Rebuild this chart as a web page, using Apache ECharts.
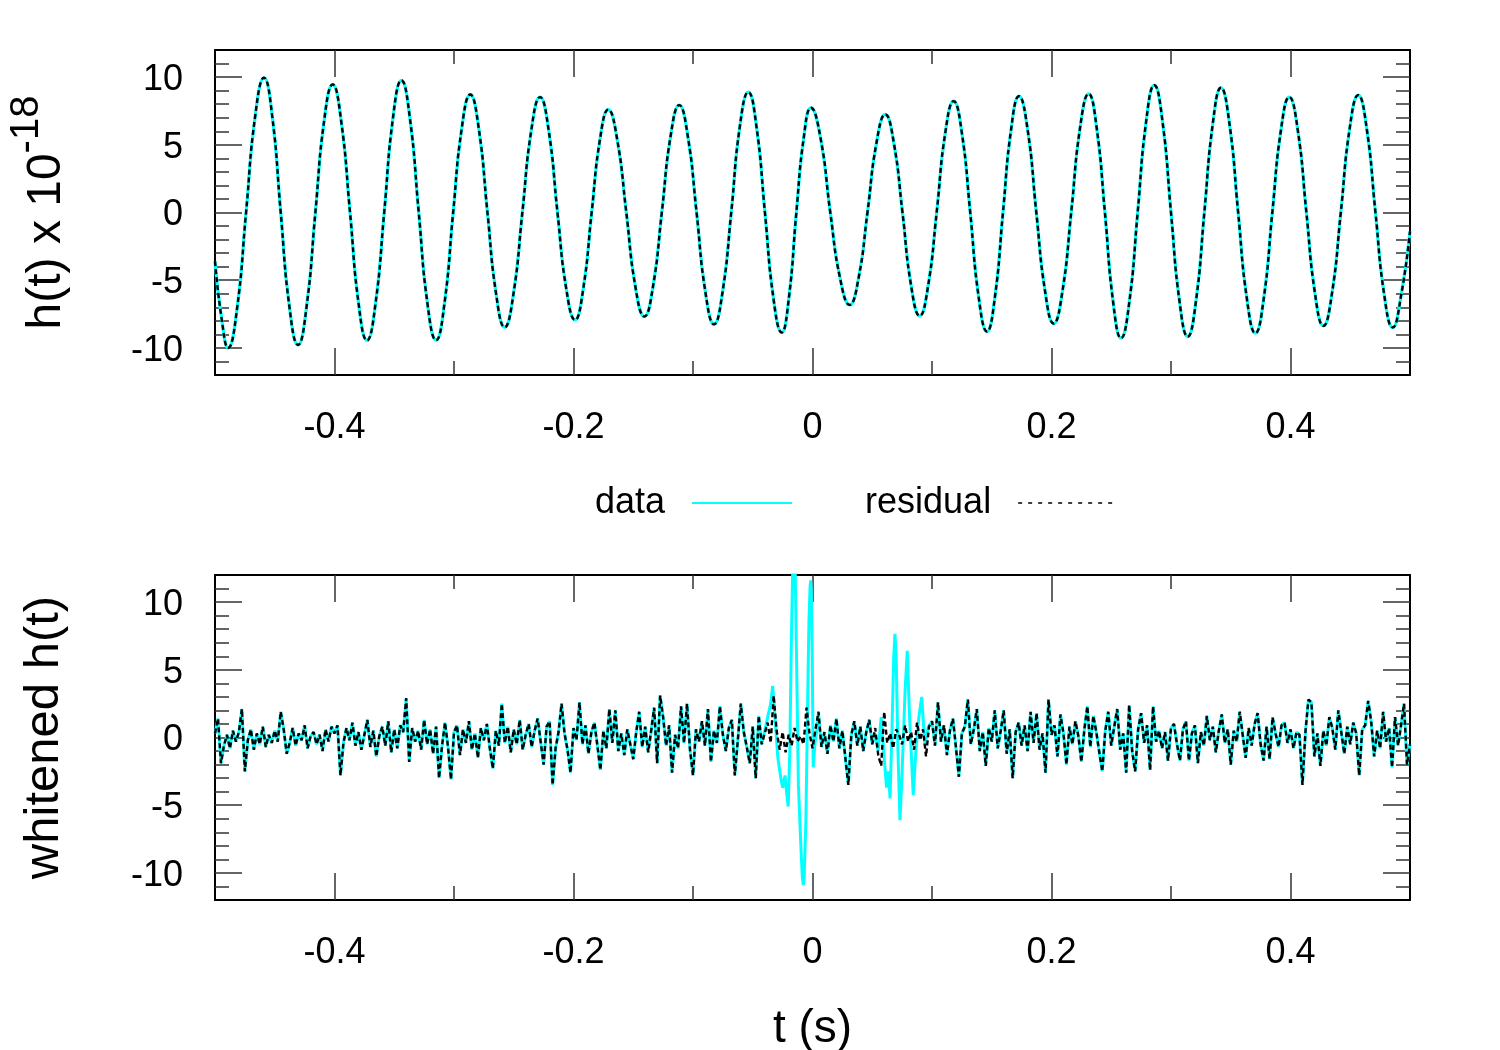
<!DOCTYPE html>
<html><head><meta charset="utf-8">
<script src="https://cdn.jsdelivr.net/npm/echarts@6/dist/echarts.min.js"></script>
<style>html,body{margin:0;padding:0;background:#fff}#c{width:1500px;height:1050px}</style>
</head><body><div id="c"></div>
<script>
// ---------- tick values ----------
const xMajorTicks = [-0.4, -0.2, 0, 0.2, 0.4];
const xMinorTicks = [-0.3, -0.1, 0.1, 0.3];
const yMajorTicks = [-10, -5, 0, 5, 10];
const yMinorTicks = [-11, -9, -8, -7, -6, -4, -3, -2, -1, 1, 2, 3, 4, 6, 7, 8, 9, 11];

// ---------- top panel: strain h(t) x 1e-18 ----------
const strainT = [
 -0.5, -0.4945, -0.489, -0.4815, -0.474, -0.4665, -0.459, -0.452, -0.445, -0.4378, -0.4305, -0.4233, -0.416, -0.4088, -0.4015, -0.3943, -0.387, -0.3799, -0.3728, -0.3656, -0.3584,
 -0.3512, -0.344, -0.3368, -0.3295, -0.3223, -0.315, -0.3079, -0.3007, -0.2936, -0.2864, -0.2792, -0.272, -0.2648, -0.2576, -0.2502, -0.2428, -0.2354, -0.228, -0.2207, -0.2134,
 -0.2061, -0.1987, -0.1918, -0.1848, -0.1779, -0.1709, -0.1634, -0.1558, -0.1483, -0.1407, -0.1334, -0.1261, -0.1188, -0.1115, -0.1043, -0.097, -0.0897, -0.0824, -0.0752, -0.068,
 -0.0609, -0.0537, -0.0468, -0.0398, -0.0328, -0.0258, -0.0197, -0.0135, -0.0074, -0.0013, 0.0068, 0.0149, 0.023, 0.0311, 0.0386, 0.046, 0.0535, 0.0609, 0.0681, 0.0753,
 0.0825, 0.0897, 0.0968, 0.1039, 0.111, 0.1181, 0.1251, 0.132, 0.139, 0.146, 0.1527, 0.1594, 0.1661, 0.1728, 0.1801, 0.1873, 0.1946, 0.2018, 0.2092, 0.2165,
 0.2238, 0.2311, 0.2379, 0.2447, 0.2515, 0.2582, 0.2652, 0.2721, 0.2791, 0.286, 0.293, 0.3, 0.307, 0.314, 0.321, 0.3279, 0.3349, 0.3418, 0.349, 0.3562,
 0.3634, 0.3706, 0.3777, 0.3848, 0.3919, 0.399, 0.4062, 0.4133, 0.4204, 0.4275, 0.4348, 0.4421, 0.4494, 0.4567, 0.4639, 0.4711, 0.4783, 0.4855, 0.4928, 0.5
];
const strainData = [
 -3.6, -7.8, -10.0, -7.07, 0, 7.03, 9.95, 7.03, 0, -6.91, -9.78, -6.91, 0, 6.68, 9.45, 6.68, 0, -6.68, -9.45, -6.68, 0,
 6.89, 9.75, 6.89, 0, -6.67, -9.43, -6.67, 0, 6.16, 8.71, 6.16, 0, -5.99, -8.47, -5.99, 0, 6.02, 8.52, 6.02, 0,
 -5.61, -7.93, -5.61, 0, 5.37, 7.6, 5.37, 0, -5.43, -7.68, -5.43, 0, 5.61, 7.93, 5.61, 0, -5.83, -8.25, -5.83, 0,
 6.29, 8.89, 6.29, 0, -6.26, -8.86, -6.26, 0, 5.47, 7.73, 5.47, 0, -4.82, -6.82, -4.82, 0, 5.12, 7.24, 5.12, 0,
 -5.39, -7.63, -5.39, 0, 5.81, 8.22, 5.81, 0, -6.21, -8.79, -6.21, 0, 6.07, 8.59, 6.07, 0, -5.8, -8.2, -5.8, 0,
 6.19, 8.76, 6.19, 0, -6.56, -9.28, -6.56, 0, 6.65, 9.4, 6.65, 0, -6.48, -9.16, -6.48, 0, 6.51, 9.21, 6.51, 0,
 -6.3, -8.91, -6.3, 0, 6.02, 8.52, 6.02, 0, -5.92, -8.37, -5.92, 0, 6.13, 8.67, 6.13, 0, -6.0, -8.49, -6.0, -1.4
];
// residual is indistinguishable from the data in this panel
const strainResidual = strainData.slice();

// ---------- bottom panel: whitened h(t), sampled every 2.5 ms from -0.5 s ----------
const whitenedT0 = -0.5;
const whitenedDt = 0.0025;
const whitenedResidual = [
 0.3, 1.4, -1.9, -0.6, 0.2, -0.8, 0.5, -0.3, 0.4, 2.1, -2.5, -0.2, 0.6, -0.9, 0.3, -0.5, 0.8, -0.7, 0.2, -0.4,
 0.5, -0.3, 1.9, 0.6, -1.2, -0.4, 0.7, -0.6, 0.3, -0.2, 0.9, -0.8, 0.1, 0.4, -0.5, 0.2, -1.0, 0.6, -0.3, 0.8,
 0.3, 0.9, -2.8, -0.4, 0.7, -0.2, 1.1, -0.6, 0.4, -0.9, 0.2, 1.3, -0.7, 0.5, -1.4, 0.1, 0.8, -0.6, 1.2, -1.1,
 0.6, -0.8, 0.9, 0.4, 2.9, -1.8, 0.7, -0.3, 0.5, -0.9, 1.3, -0.5, 0.6, -1.2, 0.8, -3.0, -0.6, 1.1, -0.7, -3.1,
 0.4, 0.9, -1.3, 0.6, -0.4, 1.2, -0.9, 0.3, -1.5, 0.7, -0.2, 1.0, -0.8, -2.3, 0.5, -0.6, 2.5, -0.4, 0.8, -1.1,
 0.6, -0.5, 1.3, -0.9, 0.2, 1.0, -0.7, 0.5, 1.4, -0.3, -2.0, 0.8, 1.2, -3.5, -0.8, 0.4, 2.5, 0.3, -0.9, -2.6,
 0.7, -0.2, 2.6, -0.5, 0.9, -1.2, 0.4, 1.1, -0.6, -2.4, 0.5, -0.8, 2.1, -0.4, 2.0, -1.0, 0.3, -1.3, 0.6, -0.5,
 -1.6, 0.4, 1.9, -0.7, 0.8, -1.1, 0.5, 2.2, -1.9, 3.1, 1.5, -0.6, 0.9, -2.6, 0.2, -0.8, 2.3, -0.4, 2.5, -0.9,
 -2.8, 0.6, -0.3, 1.2, -0.6, 2.1, -1.8, 0.5, -0.4, 2.3, 0.2, -1.0, 0.7, 1.3, -2.8, -0.2, 2.5, 0.4, -0.7, -1.9,
 0.8, -3.0, 1.6, -0.5, 0.3, 1.1, -0.4, 3.1, 0.5, -0.9, 0.4, -1.1, 0.2, -0.6, 0.7, -0.3, 0.1, -0.5, 2.2, 0.3,
 -0.8, 0.6, 1.9, -0.7, 0.4, -1.2, 0.9, -0.3, 1.4, -0.8, 0.5, -1.5, -3.5, 0.2, 1.2, -0.6, 0.8, -1.0, 0.4, 1.3,
 -0.5, 0.7, -1.3, -2.1, 1.9, -0.4, 0.3, -0.8, 0.6, 0.2, -0.5, 0.9, -0.3, 0.4, -0.9, 1.1, -0.2, 0.6, -1.4, 0.8,
 1.2, -0.6, 2.6, -0.3, 0.9, -1.3, 0.5, 1.4, -0.7, -2.9, 0.3, 0.8, 2.8, -0.5, 0.6, 2.1, -1.0, 0.4, -2.1, 0.7,
 -0.3, 2.0, -0.8, 0.5, 2.0, -1.2, 0.6, -3.0, 0.4, 1.1, -0.6, 0.9, -1.0, 1.9, -0.4, 1.8, -0.9, 0.3, -2.6, 2.8,
 0.2, 0.9, -1.4, 1.7, 0.3, -2.0, 0.8, -0.5, 1.2, 0.1, -1.8, 0.6, 2.3, -0.7, 1.6, 0.4, -1.1, -2.5, 0.5, 1.9,
 -0.6, 0.8, 2.1, -0.9, 0.3, -2.6, 2.4, -1.0, -2.5, 0.6, 1.8, -0.4, 0.9, -2.4, 2.3, -0.3, 0.5, -0.8, 0.4, -1.7,
 0.7, 1.0, -0.5, -1.7, 0.6, 1.2, -1.7, 0.3, 0.9, -1.9, 0.4, -0.6, 1.6, -0.2, 0.8, -1.1, 0.5, 1.7, -0.4, 0.6,
 -2.0, 0.5, -0.3, 1.9, 0.2, -1.5, 0.7, -0.6, 1.0, 1.8, -0.5, -1.7, 0.8, -1.6, 1.5, 0.3, -0.7, 0.9, 1.1, -0.4,
 0.6, -0.8, 0.4, 0.2, -3.5, 0.4, 2.8, 2.6, -1.4, 0.3, -2.1, 0.5, -0.6, 1.5, 0.7, -0.9, 2.0, 0.4, -1.2, 0.8,
 -0.5, 1.1, 0.3, -2.8, 0.6, 0.9, 2.7, 1.2, -1.4, 0.5, -0.8, 1.9, -0.3, 0.7, -2.2, 1.5, -0.6, 0.9, 2.5, -2.0,
 -0.5
];
// the data curve departs from the residual only in the two signal bursts
const burstA_T = [-0.040, -0.0375, -0.035, -0.0333, -0.031, -0.029, -0.0265, -0.0249, -0.023, -0.0215, -0.0203, -0.019, -0.0178, -0.0165, -0.0155, -0.0145, -0.0133, -0.0118, -0.0095, -0.0085, -0.0077, -0.007, -0.0055, -0.004, -0.003, -0.002, -0.0015, -0.001, -0.0002, 0.0006, 0.002, 0.004];
const burstA_V = [0.5, 1.5, 2.5, 3.8, 1.0, -1.5, -3.0, -3.7, -2.8, -4.2, -5.1, -1.0, 6.5, 12.8, 14.5, 12.5, 5.5, -3.5, -8.5, -10.3, -10.9, -10.3, -6.0, 3.0, 8.5, 11.2, 11.6, 11.0, 6.0, -2.2, -0.5, 0.8];
const burstB_T = [0.052, 0.055, 0.0575, 0.060, 0.062, 0.0635, 0.0649, 0.0665, 0.068, 0.069, 0.070, 0.0715, 0.0732, 0.0748, 0.0775, 0.0793, 0.081, 0.0843, 0.0865, 0.089, 0.0914, 0.094, 0.097];
const burstB_V = [0.3, -1.0, 1.5, -1.5, -3.7, -2.5, -4.5, 0.5, 6.0, 7.65, 6.0, -1.0, -6.1, -3.0, 3.5, 6.4, 2.0, -4.25, -1.0, 1.5, 3.0, -0.5, 0.8];

// ---------- build series data ----------
const zip = (T, V) => T.map((t, i) => [t, V[i]]);
const whitenedResidualPairs = whitenedResidual.map((v, i) => [+(whitenedT0 + i * whitenedDt).toFixed(4), v]);
const inWin = (t, T) => t >= T[0] && t <= T[T.length - 1];
const whitenedDataPairs = whitenedResidualPairs
  .filter(p => !inWin(p[0], burstA_T) && !inWin(p[0], burstB_T))
  .concat(zip(burstA_T, burstA_V), zip(burstB_T, burstB_V))
  .sort((a, b) => a[0] - b[0]);

// ---------- layout ----------
const FONT = "'Liberation Sans', Arial, Helvetica, sans-serif";
const GRID_TOPS = [50, 575];
const TICK_COLOR = '#333';
const CYAN = '#00ffff';

function tick(vals, len) {
  return { show: true, inside: true, length: len, customValues: vals, lineStyle: { color: TICK_COLOR, width: 1.5 } };
}
const frameLine = { show: true, onZero: false, lineStyle: { color: '#000', width: 2 } };
const noLine = { show: false, onZero: false };

function makeXAxes(g, name) {
  const base = { gridIndex: g, type: 'value', min: -0.5, max: 0.5, splitLine: { show: false } };
  return [
    Object.assign({}, base, {
      position: 'bottom', axisLine: frameLine, axisTick: tick(xMajorTicks, 27),
      axisLabel: { show: true, customValues: xMajorTicks, margin: 35, fontSize: 36, color: '#000', fontFamily: FONT },
      name: name, nameLocation: 'middle', nameGap: 106,
      nameTextStyle: { fontSize: 46, color: '#000', fontFamily: FONT }
    }),
    Object.assign({}, base, { position: 'bottom', axisLine: noLine, axisTick: tick(xMinorTicks, 14), axisLabel: { show: false } }),
    Object.assign({}, base, { position: 'top', axisLine: frameLine, axisTick: tick(xMajorTicks, 27), axisLabel: { show: false } }),
    Object.assign({}, base, { position: 'top', axisLine: noLine, axisTick: tick(xMinorTicks, 14), axisLabel: { show: false } })
  ];
}
function makeYAxes(g, name, nameGap, nameSize, rich) {
  const base = { gridIndex: g, type: 'value', min: -12, max: 12, splitLine: { show: false } };
  return [
    Object.assign({}, base, {
      position: 'left', axisLine: frameLine, axisTick: tick(yMajorTicks, 27),
      axisLabel: { show: true, customValues: yMajorTicks, margin: 32, fontSize: 36, color: '#000', fontFamily: FONT, verticalAlign: 'top', lineHeight: 6 },
      name: name, nameLocation: 'middle', nameRotate: 90, nameGap: nameGap,
      nameTextStyle: { fontSize: nameSize, color: '#000', fontFamily: FONT, rich: rich }
    }),
    Object.assign({}, base, { position: 'left', axisLine: noLine, axisTick: tick(yMinorTicks, 14), axisLabel: { show: false } }),
    Object.assign({}, base, { position: 'right', axisLine: frameLine, axisTick: tick(yMajorTicks, 27), axisLabel: { show: false } }),
    Object.assign({}, base, { position: 'right', axisLine: noLine, axisTick: tick(yMinorTicks, 14), axisLabel: { show: false } })
  ];
}

// superscript: main text centred in a tall line box, exponent pinned to its top
const supRich = {
  main: { fontSize: 48, lineHeight: 80, color: '#000', fontFamily: FONT },
  sup: { fontSize: 40, lineHeight: 40, verticalAlign: 'top', color: '#000', fontFamily: FONT }
};

const option = {
  animation: false,
  backgroundColor: '#fff',
  grid: GRID_TOPS.map(t => ({ left: 215, top: t, width: 1195, height: 325, outerBoundsMode: 'none', containLabel: false })),
  xAxis: makeXAxes(0, '').concat(makeXAxes(1, 't (s)')),
  yAxis: makeYAxes(0, '{main|h(t) x 10}{sup|-18}', 128, 48, supRich).concat(makeYAxes(1, 'whitened h(t)', 146, 49, {})),
  legend: {
    left: 590, top: 480, orient: 'horizontal', align: 'right',
    itemWidth: 100, itemHeight: 14, itemGap: 72, selectedMode: false,
    textStyle: { fontSize: 36, color: '#000', fontFamily: FONT, padding: [0, 22, 0, 0] },
    data: [
      { name: 'data', itemStyle: { opacity: 0 }, lineStyle: { width: 2, color: CYAN } },
      { name: 'residual', itemStyle: { opacity: 0 }, lineStyle: { width: 1.5, color: '#000', type: [4, 6] } }
    ]
  },
  series: [
    { name: 'data', type: 'line', xAxisIndex: 0, yAxisIndex: 0, data: zip(strainT, strainData),
      smooth: 0.5, symbol: 'none', lineStyle: { color: CYAN, width: 3.2 }, itemStyle: { color: CYAN }, z: 2 },
    { name: 'residual', type: 'line', xAxisIndex: 0, yAxisIndex: 0, data: zip(strainT, strainResidual),
      smooth: 0.5, symbol: 'none', lineStyle: { color: '#000', width: 2.4, type: [5, 3] }, itemStyle: { color: '#000' }, z: 3 },
    { name: 'data', type: 'line', xAxisIndex: 4, yAxisIndex: 4, data: whitenedDataPairs,
      symbol: 'none', lineStyle: { color: CYAN, width: 3 }, itemStyle: { color: CYAN }, z: 2 },
    { name: 'residual', type: 'line', xAxisIndex: 4, yAxisIndex: 4, data: whitenedResidualPairs,
      symbol: 'none', lineStyle: { color: '#000', width: 2.4, type: [5, 3] }, itemStyle: { color: '#000' }, z: 3 }
  ]
};
const chart = echarts.init(document.getElementById('c'));
chart.setOption(option);
</script>
</body></html>
